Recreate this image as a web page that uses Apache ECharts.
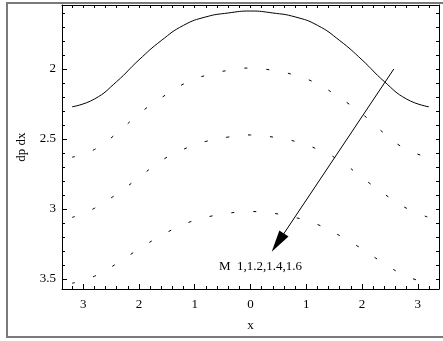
<!DOCTYPE html>
<html>
<head>
    <meta charset="utf-8">
    <title>dp dx vs x</title>
    <script src="https://cdn.jsdelivr.net/npm/echarts@6.0.0/dist/echarts.min.js"></script>
    <style>
        body, html { margin: 0; padding: 0; width: 100%; height: 100%; overflow: hidden; background: #fff; }
        #main { width: 443px; height: 341px; }
    </style>
</head>
<body>
    <div id="main"></div>
    <script type="text/javascript">
        var xs = [-3.2, -2.8, -2.4, -2.0, -1.6, -1.2, -0.8, -0.4, 0, 0.4, 0.8, 1.2, 1.6, 2.0, 2.4, 2.8, 3.2];

        // dp/dx for each M
        var m10 = [2.27, 2.215, 2.09, 1.935, 1.797, 1.688, 1.628, 1.600, 1.586, 1.600, 1.628, 1.688, 1.797, 1.935, 2.09, 2.215, 2.27];
        var m12 = [2.63, 2.575, 2.46, 2.32, 2.206, 2.107, 2.045, 2.010, 1.993, 2.010, 2.045, 2.107, 2.206, 2.32, 2.46, 2.575, 2.63];
        var m14 = [3.06, 2.995, 2.893, 2.775, 2.655, 2.573, 2.517, 2.486, 2.471, 2.486, 2.517, 2.573, 2.655, 2.775, 2.893, 2.995, 3.06];
        var m16 = [3.53, 3.48, 3.39, 3.285, 3.19, 3.11, 3.06, 3.03, 3.018, 3.03, 3.06, 3.11, 3.19, 3.285, 3.39, 3.48, 3.53];

        var xMajor = [-3, -2, -1, 0, 1, 2, 3];
        var yMajor = [2, 2.5, 3, 3.5];

        var arrowFrom = [2.57, 2.0];
        var arrowTo = [0.49, 3.24];
        var labelAt = [0.18, 3.414];
        var labelText = 'M  1,1.2,1.4,1.6';

        var serif = '"Liberation Serif", "Times New Roman", serif';

        function pairs(ys) {
            return xs.map(function (x, i) { return [x, ys[i]]; });
        }
        function steps(a, b, s) {
            var out = [];
            for (var k = Math.round(a / s); k <= Math.round(b / s); k++) out.push(+(k * s).toFixed(2));
            return out;
        }
        var xMinor = steps(-3.2, 3.2, 0.2);
        var yMinor = steps(1.6, 3.5, 0.1);

        var myChart = echarts.init(document.getElementById('main'));
        var xMin = -3.38, xMax = 3.38, yMin = 1.543, yMax = 3.571;

        var line = { color: '#000', width: 1 };

        // one axis per tick size and side, all sharing the same scale
        function xAx(pos, len, ticks, extra) {
            return Object.assign({
                type: 'value', min: xMin, max: xMax, position: pos,
                axisLine: { show: pos === 'top' || len === 5, onZero: false, lineStyle: line },
                axisTick: { show: true, inside: true, length: len, customValues: ticks, lineStyle: line },
                axisLabel: { show: false }, splitLine: { show: false }
            }, extra || {});
        }
        function yAx(pos, len, ticks, extra) {
            return Object.assign({
                type: 'value', inverse: true, min: yMin, max: yMax, position: pos,
                axisLine: { show: pos === 'right' || len === 5, onZero: false, lineStyle: line },
                axisTick: { show: true, inside: true, length: len, customValues: ticks, lineStyle: line },
                axisLabel: { show: false }, splitLine: { show: false }
            }, extra || {});
        }

        var option = {
            animation: false,
            backgroundColor: '#fff',
            grid: { left: 62, right: 4, top: 5, bottom: 52 },
            graphic: [{
                type: 'rect',
                shape: { x: 7, y: 3, width: 470, height: 334 },
                style: { fill: 'none', stroke: '#7a7a7a', lineWidth: 2 },
                silent: true
            }],
            xAxis: [
                xAx('bottom', 5, xMajor, {
                    axisLabel: {
                        customValues: xMajor, margin: 9, color: '#000', fontFamily: serif, fontSize: 13,
                        formatter: function (v) { return String(Math.abs(v)); }
                    },
                    name: 'x', nameLocation: 'middle', nameGap: 30,
                    nameTextStyle: { color: '#000', fontFamily: serif, fontSize: 13 }
                }),
                xAx('bottom', 3, xMinor),
                xAx('top', 3, xMinor)
            ],
            yAxis: [
                yAx('left', 5, yMajor, {
                    axisLabel: { customValues: yMajor, margin: 6, color: '#000', fontFamily: serif, fontSize: 13 },
                    name: 'dp dx', nameLocation: 'middle', nameGap: 34, nameRotate: 90,
                    nameTextStyle: { color: '#000', fontFamily: serif, fontSize: 13 }
                }),
                yAx('left', 3, yMinor),
                yAx('right', 3, yMinor)
            ],
            series: [{
                name: 'M=1', type: 'line', data: pairs(m10), smooth: true, showSymbol: false,
                lineStyle: { color: '#000', width: 1 },
                markLine: {
                    silent: true, animation: false,
                    lineStyle: { color: '#000', width: 1, type: 'solid' },
                    label: { show: false },
                    data: [[
                        { coord: arrowFrom, symbol: 'none' },
                        { coord: arrowTo, symbol: 'triangle', symbolSize: [11, 22] }
                    ]]
                },
                markPoint: {
                    silent: true, symbol: 'circle', symbolSize: 1,
                    itemStyle: { color: 'rgba(0,0,0,0)' },
                    label: { show: true, position: 'inside', color: '#000', fontFamily: serif, fontSize: 13,
                        formatter: labelText },
                    data: [{ coord: labelAt }]
                }
            }, {
                name: 'M=1.2', type: 'line', data: pairs(m12), smooth: true, showSymbol: false,
                lineStyle: { color: '#000', width: 1, type: [3, 19] }
            }, {
                name: 'M=1.4', type: 'line', data: pairs(m14), smooth: true, showSymbol: false,
                lineStyle: { color: '#000', width: 1, type: [3, 19] }
            }, {
                name: 'M=1.6', type: 'line', data: pairs(m16), smooth: true, showSymbol: false,
                lineStyle: { color: '#000', width: 1, type: [3, 19] }
            }]
        };
        myChart.setOption(option);
    </script>
</body>
</html>
